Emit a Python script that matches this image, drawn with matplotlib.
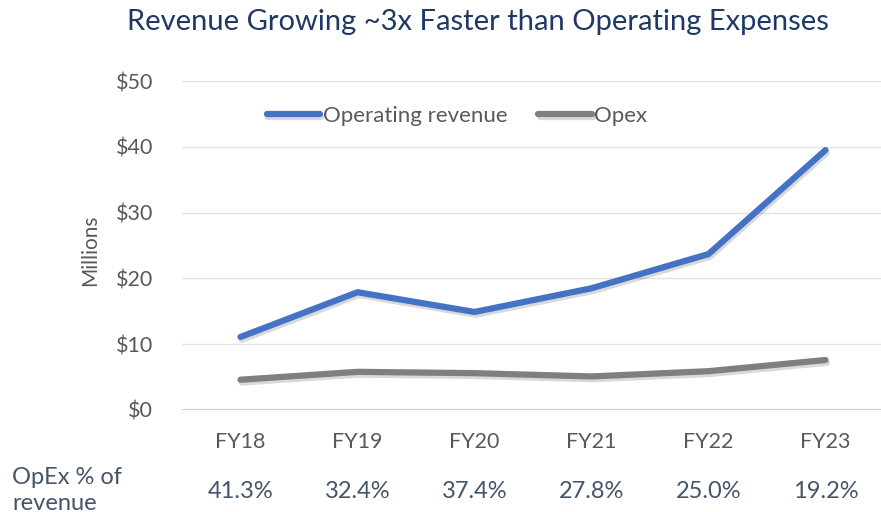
import matplotlib
matplotlib.use("Agg")
import matplotlib.pyplot as plt
import matplotlib.patheffects as pe
from matplotlib.ticker import FuncFormatter

categories = ["FY18", "FY19", "FY20", "FY21", "FY22", "FY23"]
revenue = [11.1, 17.9, 14.9, 18.5, 23.7, 39.5]
opex = [4.6, 5.8, 5.6, 5.1, 5.9, 7.6]
opex_pct = ["41.3%", "32.4%", "37.4%", "27.8%", "25.0%", "19.2%"]
yticks = [0, 10, 20, 30, 40, 50]

W, H = 881, 512
fig = plt.figure(figsize=(W / 100, H / 100), dpi=100)
plt.rcParams['font.family'] = ['Lato', 'DejaVu Sans']

ax = fig.add_axes([182 / W, (H - 410) / H, (884 - 182) / W, 329 / H])
x = list(range(len(categories)))

shadow = [pe.SimpleLineShadow(offset=(1, -2), alpha=0.15, shadow_color='black'), pe.Normal()]
ax.plot(x, revenue, color='#4472C4', lw=4.5, solid_capstyle='round', solid_joinstyle='round',
        label='Operating revenue', path_effects=shadow, zorder=3)
ax.plot(x, opex, color='#7F7F7F', lw=4.5, solid_capstyle='round', solid_joinstyle='round',
        label='Opex', path_effects=shadow, zorder=3)

ax.set_xlim(-0.5, len(categories) - 0.5)
ax.set_ylim(0, 50)
ax.set_yticks(yticks)
ax.yaxis.set_major_formatter(FuncFormatter(lambda v, p: f"${v:.0f}"))
ax.set_xticks(x)
ax.set_xticklabels(categories)
ax.grid(axis='y', color='#E3E3E3', lw=1)
ax.axhline(0, color='#D0D0D0', lw=1.5, zorder=2)
for s in ax.spines.values():
    s.set_visible(False)
ax.tick_params(axis='both', length=0, labelsize=15.5, colors='#595959')
ax.tick_params(axis='y', pad=21)
ax.tick_params(axis='x', pad=16)
ax.set_axisbelow(True)

fig.text(90 / W, 1 - 250 / H, "Millions", rotation=90, ha='center', va='center',
         fontsize=15, color='#595959')

fig.text(478 / W, 1 - 22 / H, "Revenue Growing ~3x Faster than Operating Expenses",
         ha='center', va='center', fontsize=21, color='#1F3864')

leg = ax.legend(loc='center', bbox_to_anchor=(457 / W, 1 - 116 / H), bbox_transform=fig.transFigure,
                ncol=2, frameon=False, fontsize=16, handlelength=2.4, handletextpad=0.12,
                columnspacing=1.4, labelcolor='#595959')

fig.text(12 / W, 1 - 478 / H, "OpEx % of", ha='left', va='center', fontsize=17,
         color='#44546A')
fig.text(12 / W, 1 - 503 / H, "revenue", ha='left', va='center', fontsize=17,
         color='#44546A')
for i, t in enumerate(opex_pct):
    xf = fig.transFigure.inverted().transform(ax.transData.transform((i, 0)))[0]
    fig.text(xf, 1 - 491 / H, t, ha='center', va='center', fontsize=17,
             color='#44546A')

fig.savefig("out.png", dpi=100)
